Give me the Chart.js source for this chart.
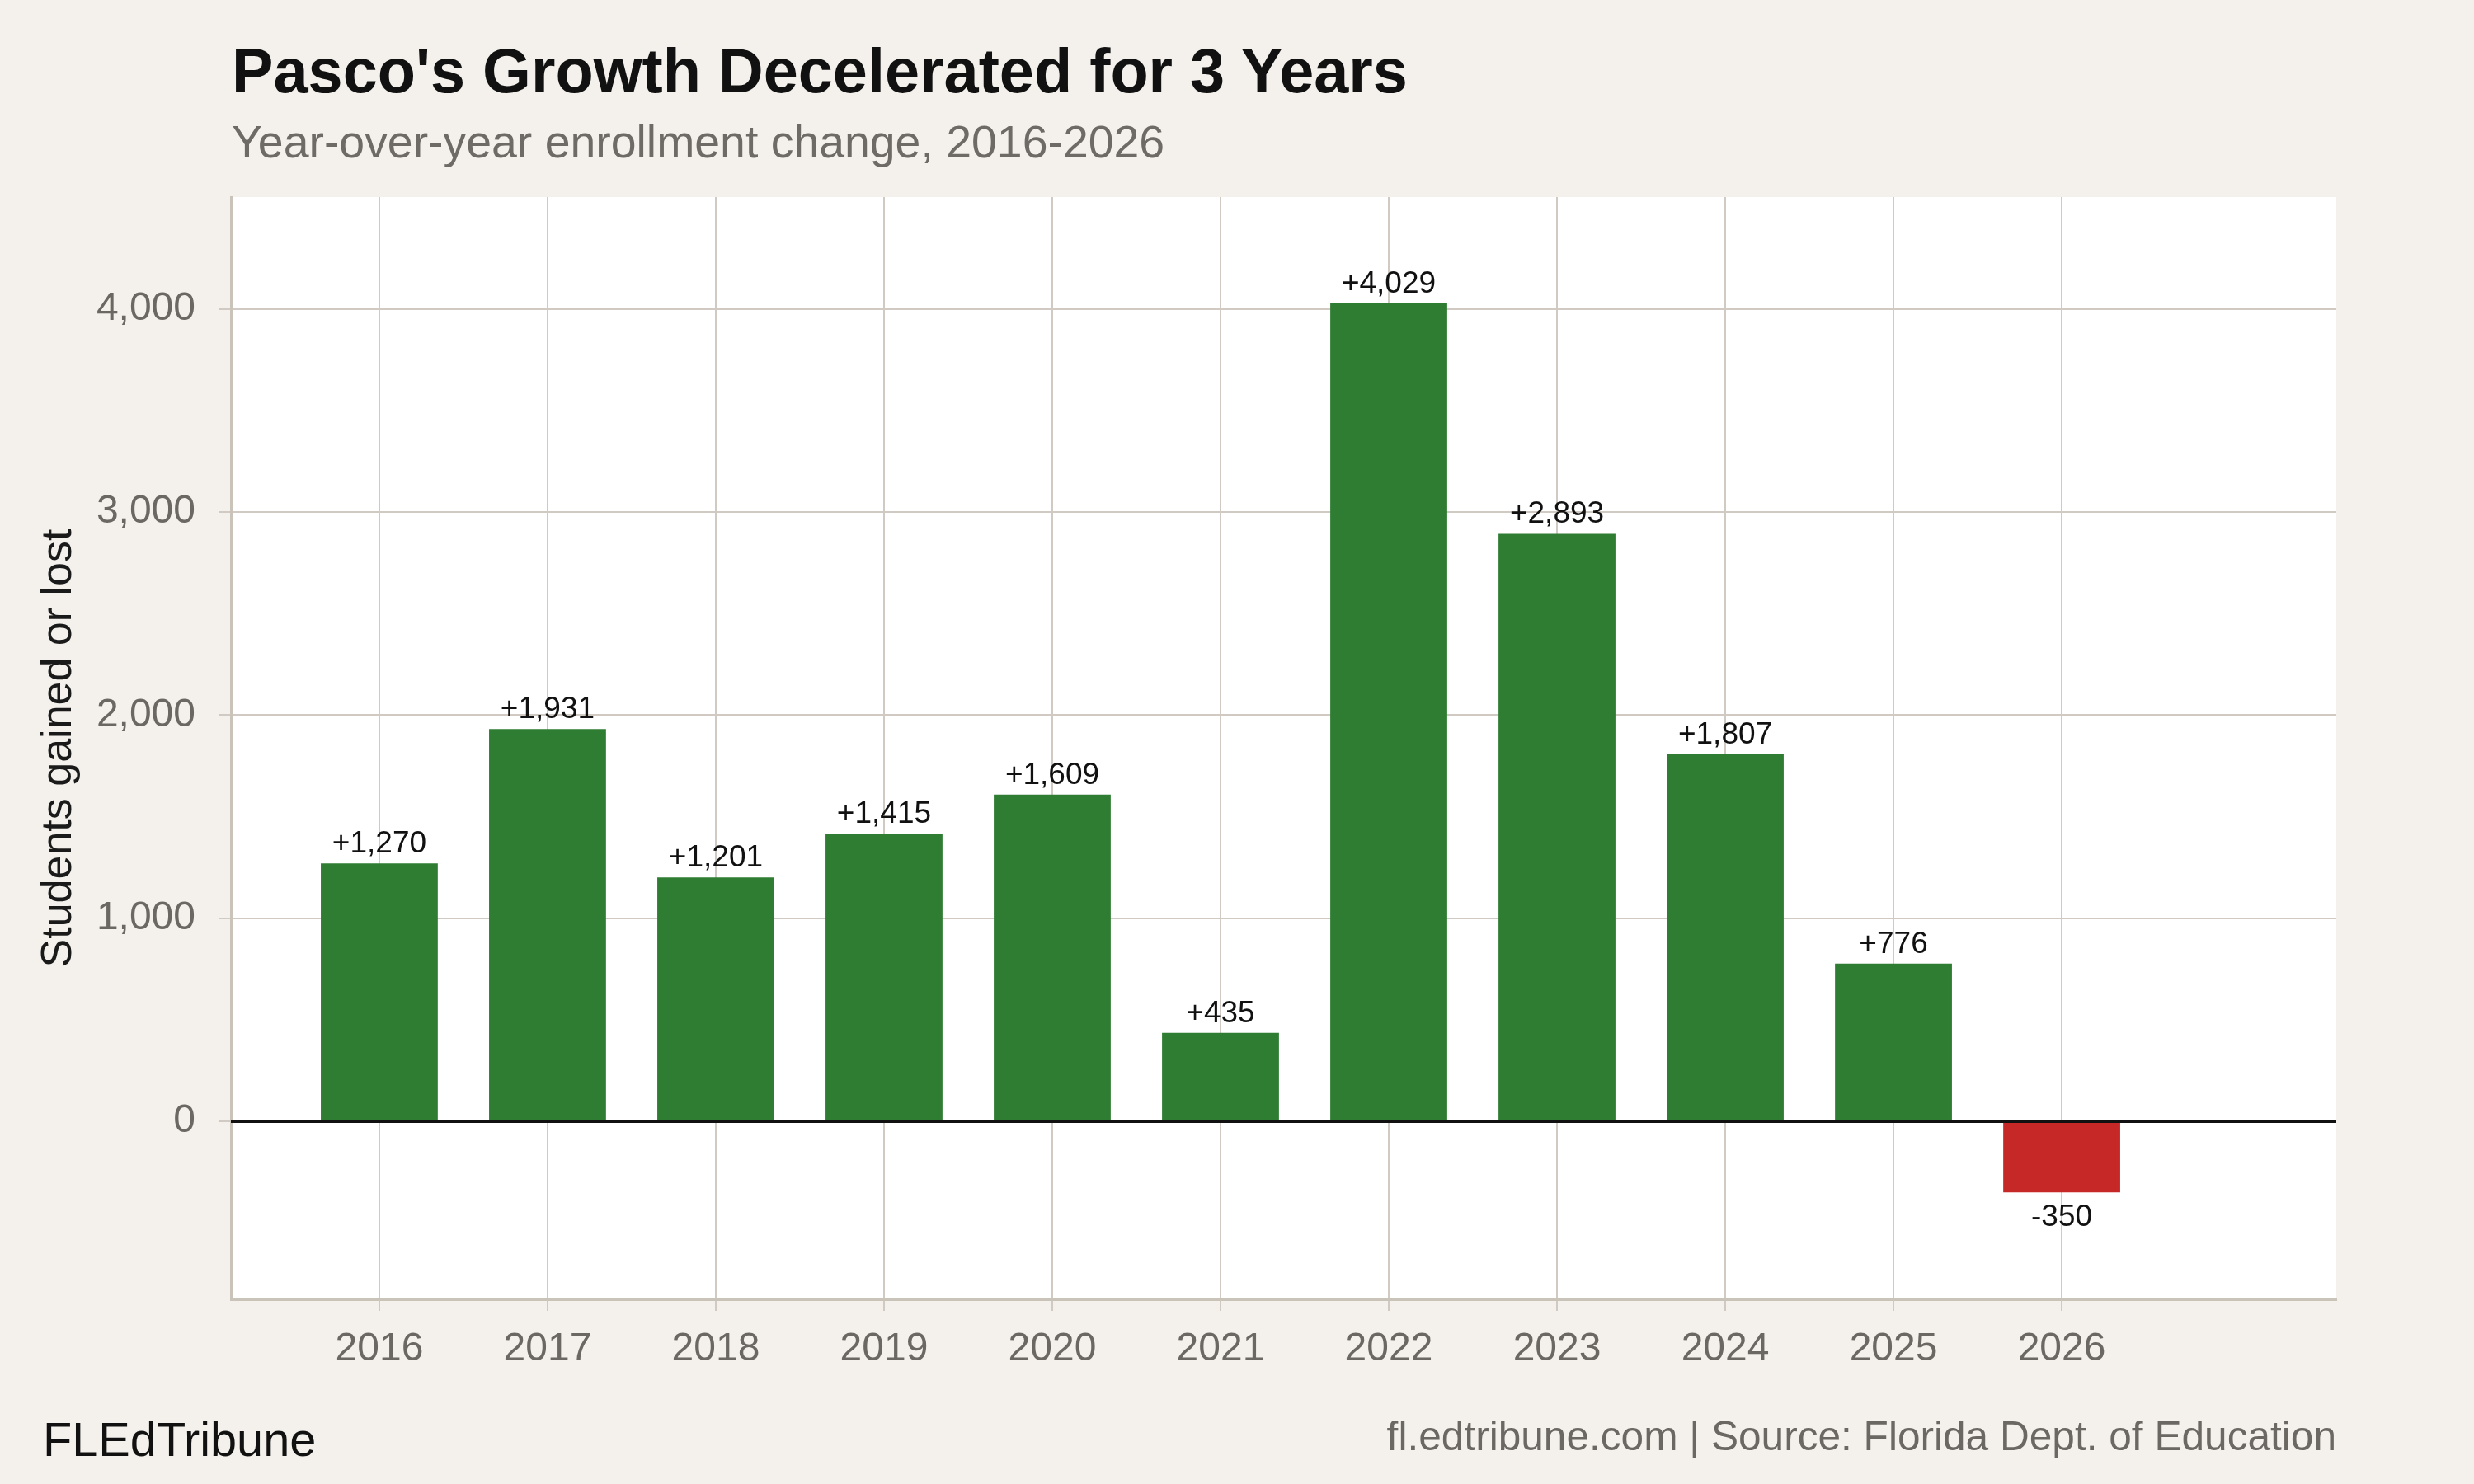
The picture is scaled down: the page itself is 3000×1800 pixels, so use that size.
<!DOCTYPE html>
<html>
<head>
<meta charset="utf-8">
<script src="https://cdn.jsdelivr.net/npm/chart.js@4.4.1/dist/chart.umd.min.js"></script>
<style>
html,body{margin:0;padding:0;background:#f4f1ec;}
#wrap{position:relative;width:3000px;height:1800px;overflow:hidden;background:#f4f1ec;}
#c{position:absolute;left:0;top:0;}
.t{position:absolute;white-space:nowrap;font-family:"Liberation Sans",Arial,Helvetica,sans-serif;}
#title{left:281px;top:48px;font-size:75.7px;line-height:75.7px;font-weight:bold;color:#111111;}
#subtitle{left:281px;top:145px;font-size:55.4px;line-height:55.4px;color:#6e6a65;}
#brand{left:52px;top:1718px;font-size:57.7px;line-height:57.7px;color:#111111;}
#source{right:167px;top:1718px;font-size:49.6px;line-height:49.6px;color:#6b6863;}
</style>
</head>
<body>
<div id="wrap">
  <canvas id="c" width="3000" height="1800"></canvas>
  <div class="t" id="title">Pasco's Growth Decelerated for 3 Years</div>
  <div class="t" id="subtitle">Year-over-year enrollment change, 2016-2026</div>
  <div class="t" id="brand">FLEdTribune</div>
  <div class="t" id="source">fl.edtribune.com | Source: Florida Dept. of Education</div>
</div>
<script>
// ---- data ----
const years = [2016, 2017, 2018, 2019, 2020, 2021, 2022, 2023, 2024, 2025, 2026];
const changes = [1270, 1931, 1201, 1415, 1609, 435, 4029, 2893, 1807, 776, -350];
const yTicks = [0, 1000, 2000, 3000, 4000];
const yTitle = "Students gained or lost";

// ---- styles ----
const GREEN = '#2e7d32';
const RED = '#c62828';
const GRID = '#d0cac2';
const AXIS = '#c9c3ba';
const TICKTXT = '#6b6863';
const FONT = '"Liberation Sans", Arial, Helvetica, sans-serif';

const fmt = v => v.toLocaleString('en-US');
const labelText = v => (v > 0 ? '+' : '') + fmt(v);

const plotBg = {
  id: 'plotBg',
  beforeDraw(chart) {
    const {ctx, chartArea: a} = chart;
    ctx.save();
    ctx.fillStyle = '#ffffff';
    ctx.fillRect(a.left, a.top, a.right - a.left, a.bottom - a.top);
    ctx.restore();
  }
};

const zeroLine = {
  id: 'zeroLine',
  afterDatasetsDraw(chart) {
    const {ctx, chartArea: a, scales} = chart;
    const y = scales.y.getPixelForValue(0);
    ctx.save();
    ctx.strokeStyle = '#111111';
    ctx.lineWidth = 4;
    ctx.beginPath();
    ctx.moveTo(a.left, y);
    ctx.lineTo(a.right, y);
    ctx.stroke();
    ctx.restore();
  }
};

const valueLabels = {
  id: 'valueLabels',
  afterDatasetsDraw(chart) {
    const {ctx} = chart;
    const meta = chart.getDatasetMeta(0);
    ctx.save();
    ctx.font = '37px ' + FONT;
    ctx.fillStyle = '#111111';
    ctx.textAlign = 'center';
    ctx.textBaseline = 'alphabetic';
    meta.data.forEach((bar, i) => {
      const v = changes[i];
      const y = v >= 0 ? bar.y - 13 : bar.y + 41;
      ctx.fillText(labelText(v), bar.x, y);
    });
    ctx.restore();
  }
};

new Chart(document.getElementById('c'), {
  type: 'bar',
  data: {
    datasets: [{
      data: years.map((yr, i) => ({x: yr, y: changes[i]})),
      backgroundColor: ctx => (ctx.raw && ctx.raw.y < 0) ? RED : GREEN,
      borderWidth: 0,
      barPercentage: 0.695,
      categoryPercentage: 1.0
    }]
  },
  options: {
    responsive: false,
    animation: false,
    devicePixelRatio: 1,
    layout: {padding: {top: 239, right: 167, bottom: 124, left: 0}},
    plugins: {
      legend: {display: false},
      tooltip: {enabled: false},
      title: {display: false}
    },
    scales: {
      x: {
        type: 'linear',
        min: 2015.118,
        max: 2027.632,
        offset: false,
        afterBuildTicks: s => { s.ticks = years.map(v => ({value: v})); },
        afterFit: s => { s.height = 100; },
        grid: {
          offset: false,
          color: GRID,
          lineWidth: 2,
          drawTicks: true,
          tickLength: 14,
          tickColor: GRID,
          tickWidth: 2
        },
        border: {display: true, color: AXIS, width: 3},
        ticks: {
          autoSkip: false,
          maxRotation: 0,
          padding: 18,
          color: TICKTXT,
          font: {family: FONT, size: 48},
          callback: v => String(v)
        }
      },
      y: {
        type: 'linear',
        min: -877,
        max: 4551,
        afterBuildTicks: s => { s.ticks = yTicks.map(v => ({value: v})); },
        afterFit: s => { s.width = 280; },
        grid: {
          color: GRID,
          lineWidth: 2,
          drawTicks: true,
          tickLength: 15,
          tickColor: GRID,
          tickWidth: 2
        },
        border: {display: true, color: AXIS, width: 3},
        ticks: {
          padding: 28,
          color: TICKTXT,
          font: {family: FONT, size: 48},
          callback: v => fmt(v)
        },
        title: {
          display: true,
          text: yTitle,
          color: '#1a1a1a',
          font: {family: FONT, size: 52},
          padding: {top: 40, bottom: 0}
        }
      }
    }
  },
  plugins: [plotBg, zeroLine, valueLabels]
});
</script>
</body>
</html>
